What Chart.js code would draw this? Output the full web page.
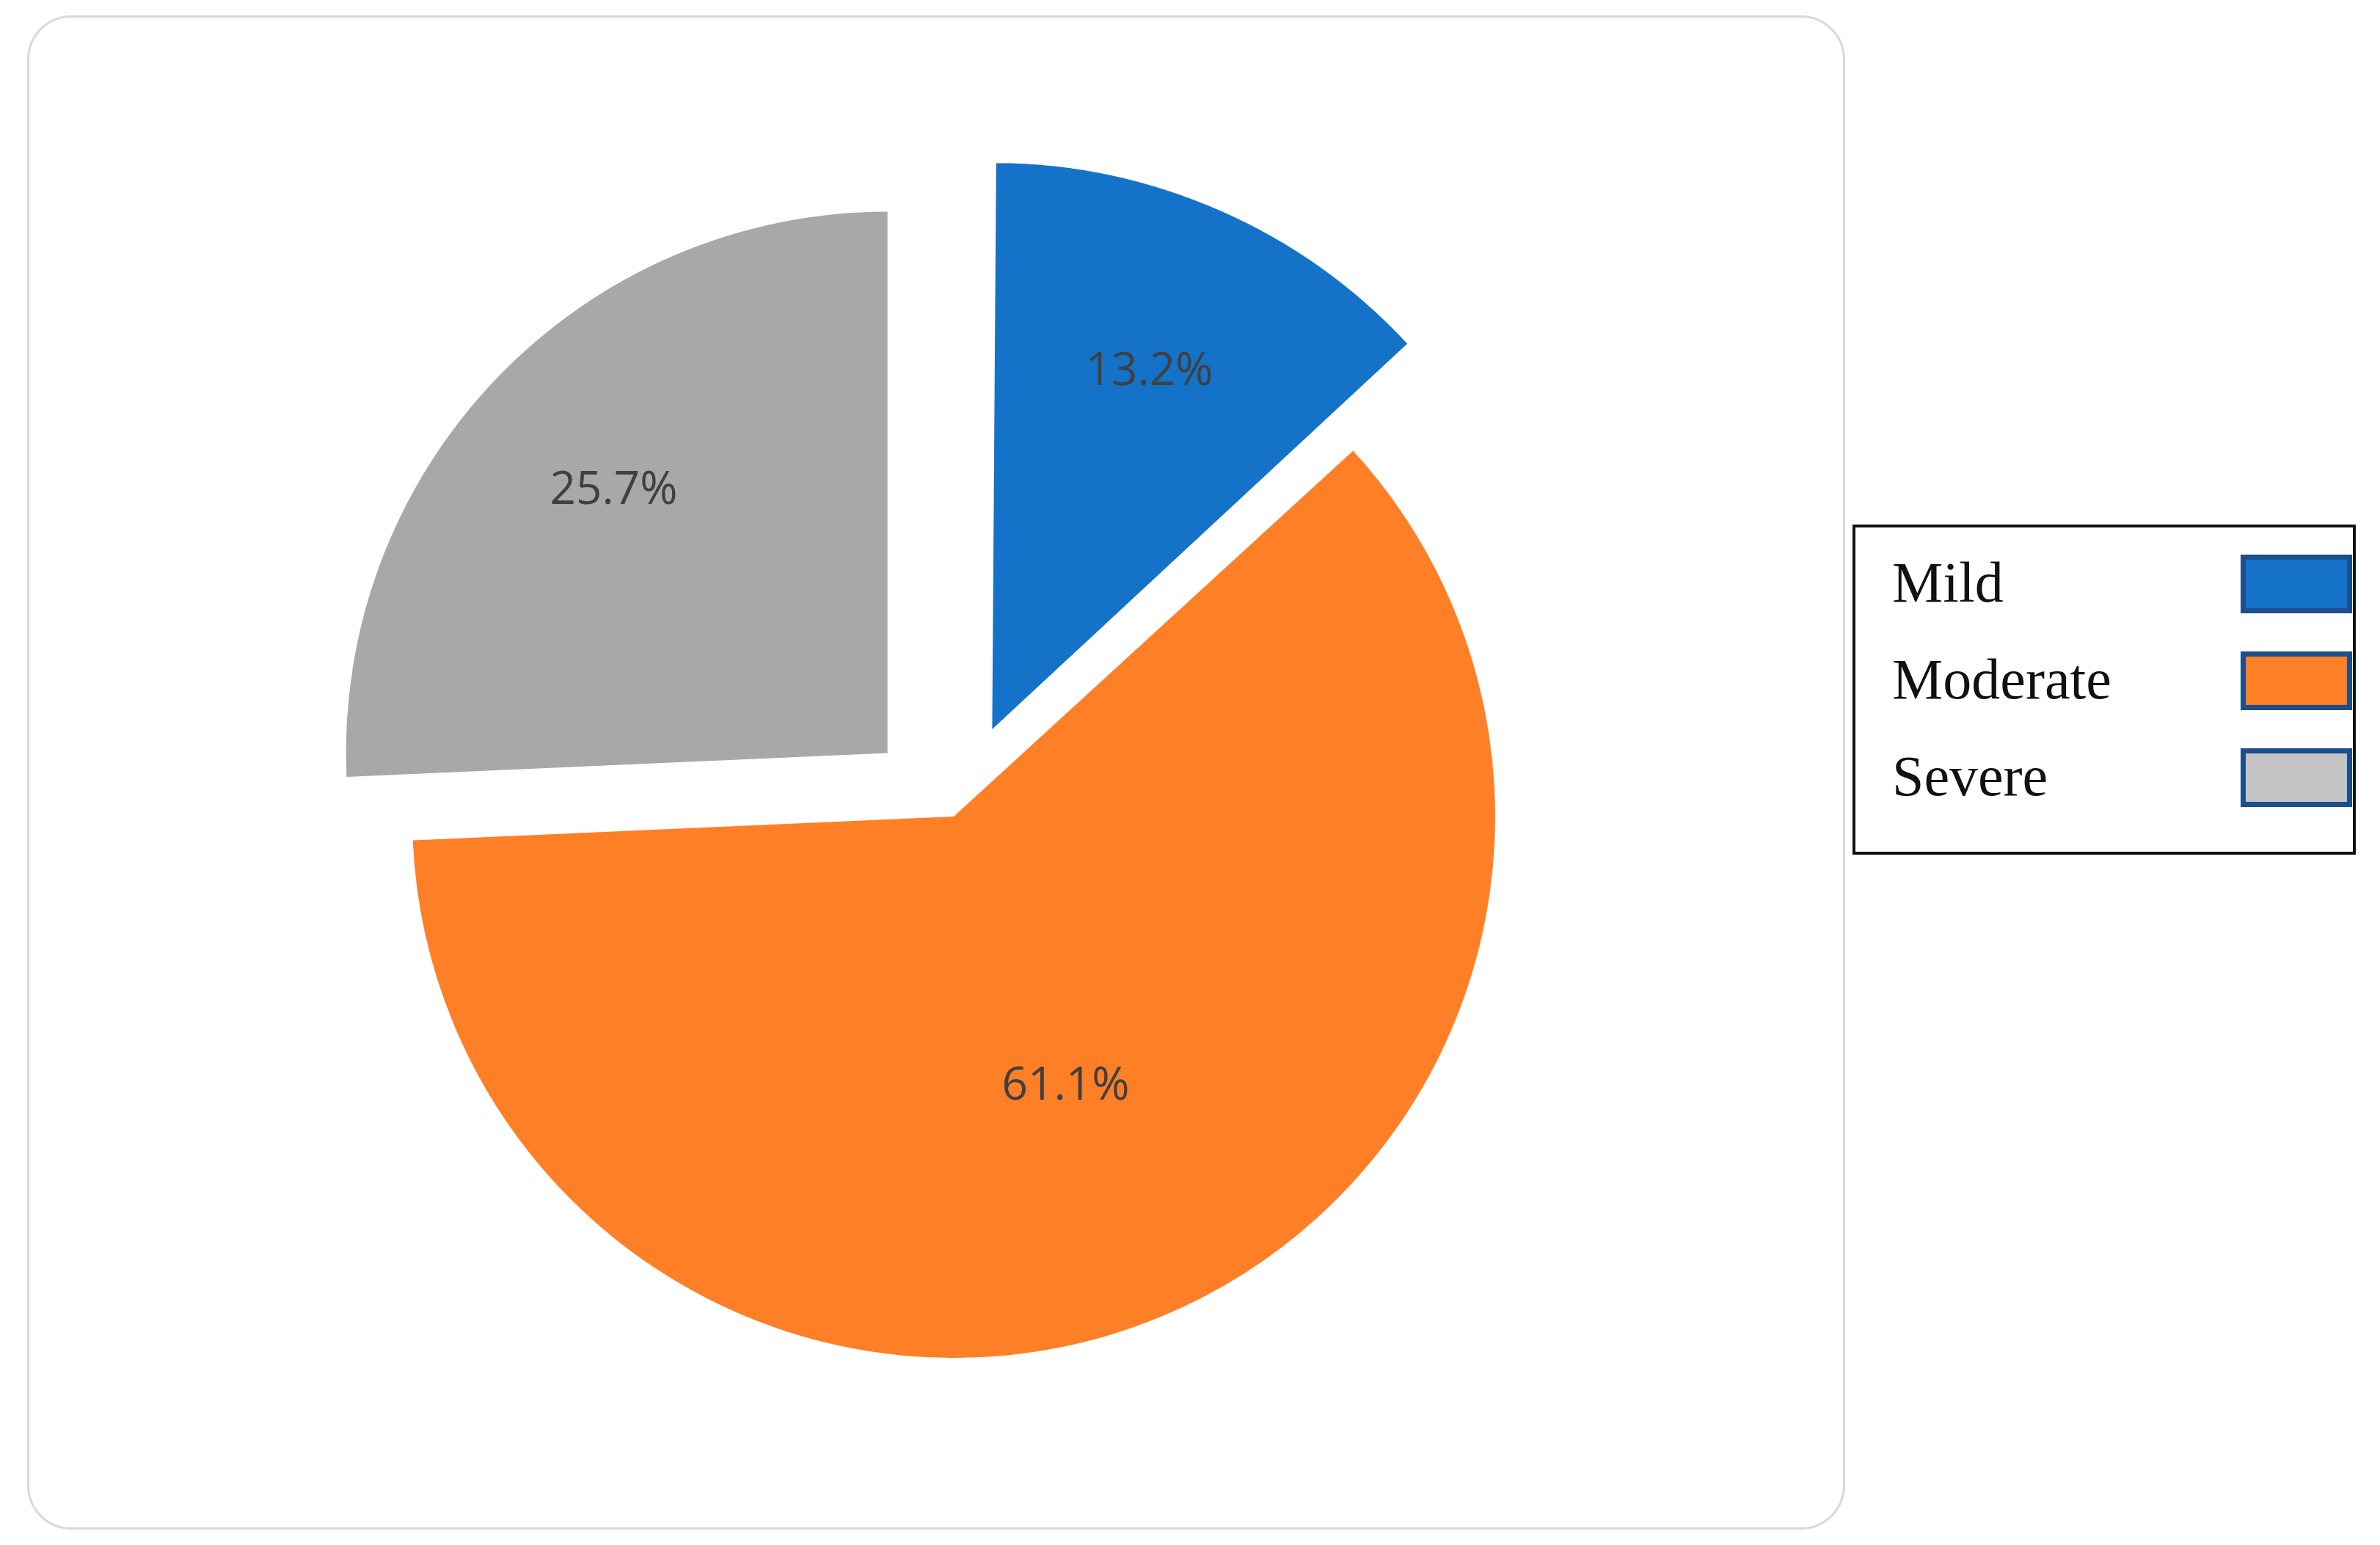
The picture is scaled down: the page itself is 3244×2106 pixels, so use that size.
<!DOCTYPE html>
<html lang="en">
<head>
    <meta charset="UTF-8">
    <title>Severity</title>
    <style>
        body { margin: 0; background: #fff; width: 3244px; height: 2106px; position: relative; overflow: hidden; }
        #card {
            position: absolute; left: 37px; top: 21px; width: 2478px; height: 2064px;
            border: 3px solid #d9d9d9; border-radius: 60px; box-sizing: border-box;
        }
        #wrap { position: absolute; left: 302px; top: 115px; width: 1996px; height: 1996px; }
        #legend {
            position: absolute; left: 2525px; top: 715px; width: 686px; height: 450px;
            border: 4px solid #111; box-sizing: border-box;
            font-family: "Liberation Serif", "DejaVu Serif", serif; font-size: 78px; color: #111;
        }
        .row { position: absolute; left: 50px; width: 600px; height: 100px; }
        .row span { position: absolute; left: 0; top: 0; line-height: 100px; }
        .row i { position: absolute; left: 475px; top: 12px; width: 152px; height: 80px;
                 border: 7px solid #1c4f8c; box-sizing: border-box; }
    </style>
</head>
<body>
    <div id="card"></div>
    <div id="wrap"><canvas id="chart"></canvas></div>
    <div id="legend"></div>

    <script src="https://cdn.jsdelivr.net/npm/chart.js"></script>
    <script>
        // data
        var categories = ['Mild', 'Moderate', 'Severe'];
        var percents = [13.2, 61.1, 25.7];
        var sliceColors = ['#1572c9', '#ff7f27', '#a8a8a8'];
        var legendColors = ['#1572c9', '#ff7f27', '#c4c4c4'];
        var sliceOffsets = [520, 0, 500];
        var labelRadius = [0.72, 0.54, 0.7];

        // legend
        var legend = document.getElementById('legend');
        categories.forEach(function(name, i) {
            var row = document.createElement('div');
            row.className = 'row';
            row.style.top = (25 + i * 132) + 'px';
            row.innerHTML = '<span>' + name + '</span><i style="background:' + legendColors[i] + '"></i>';
            legend.appendChild(row);
        });

        var pctLabels = {
            id: 'pctLabels',
            afterDatasetsDraw: function(chart) {
                var ctx = chart.ctx;
                var arcs = chart.getDatasetMeta(0).data;
                ctx.save();
                ctx.font = '62px "Open Sans", "Liberation Sans", sans-serif';
                ctx.fillStyle = '#404040';
                ctx.textAlign = 'center';
                ctx.textBaseline = 'middle';
                arcs.forEach(function(arc, i) {
                    var mid = (arc.startAngle + arc.endAngle) / 2;
                    var r = arc.outerRadius * labelRadius[i] + sliceOffsets[i] / 4;
                    ctx.fillText(percents[i].toFixed(1) + '%', arc.x + Math.cos(mid) * r, arc.y + Math.sin(mid) * r);
                });
                ctx.restore();
            }
        };

        new Chart(document.getElementById('chart'), {
            type: 'pie',
            data: {
                labels: categories,
                datasets: [{
                    data: percents,
                    backgroundColor: sliceColors,
                    borderWidth: 0,
                    offset: sliceOffsets
                }]
            },
            options: {
                responsive: true,
                maintainAspectRatio: false,
                animation: false,
                plugins: { legend: { display: false }, tooltip: { enabled: false } }
            },
            plugins: [pctLabels]
        });
    </script>
</body>
</html>
